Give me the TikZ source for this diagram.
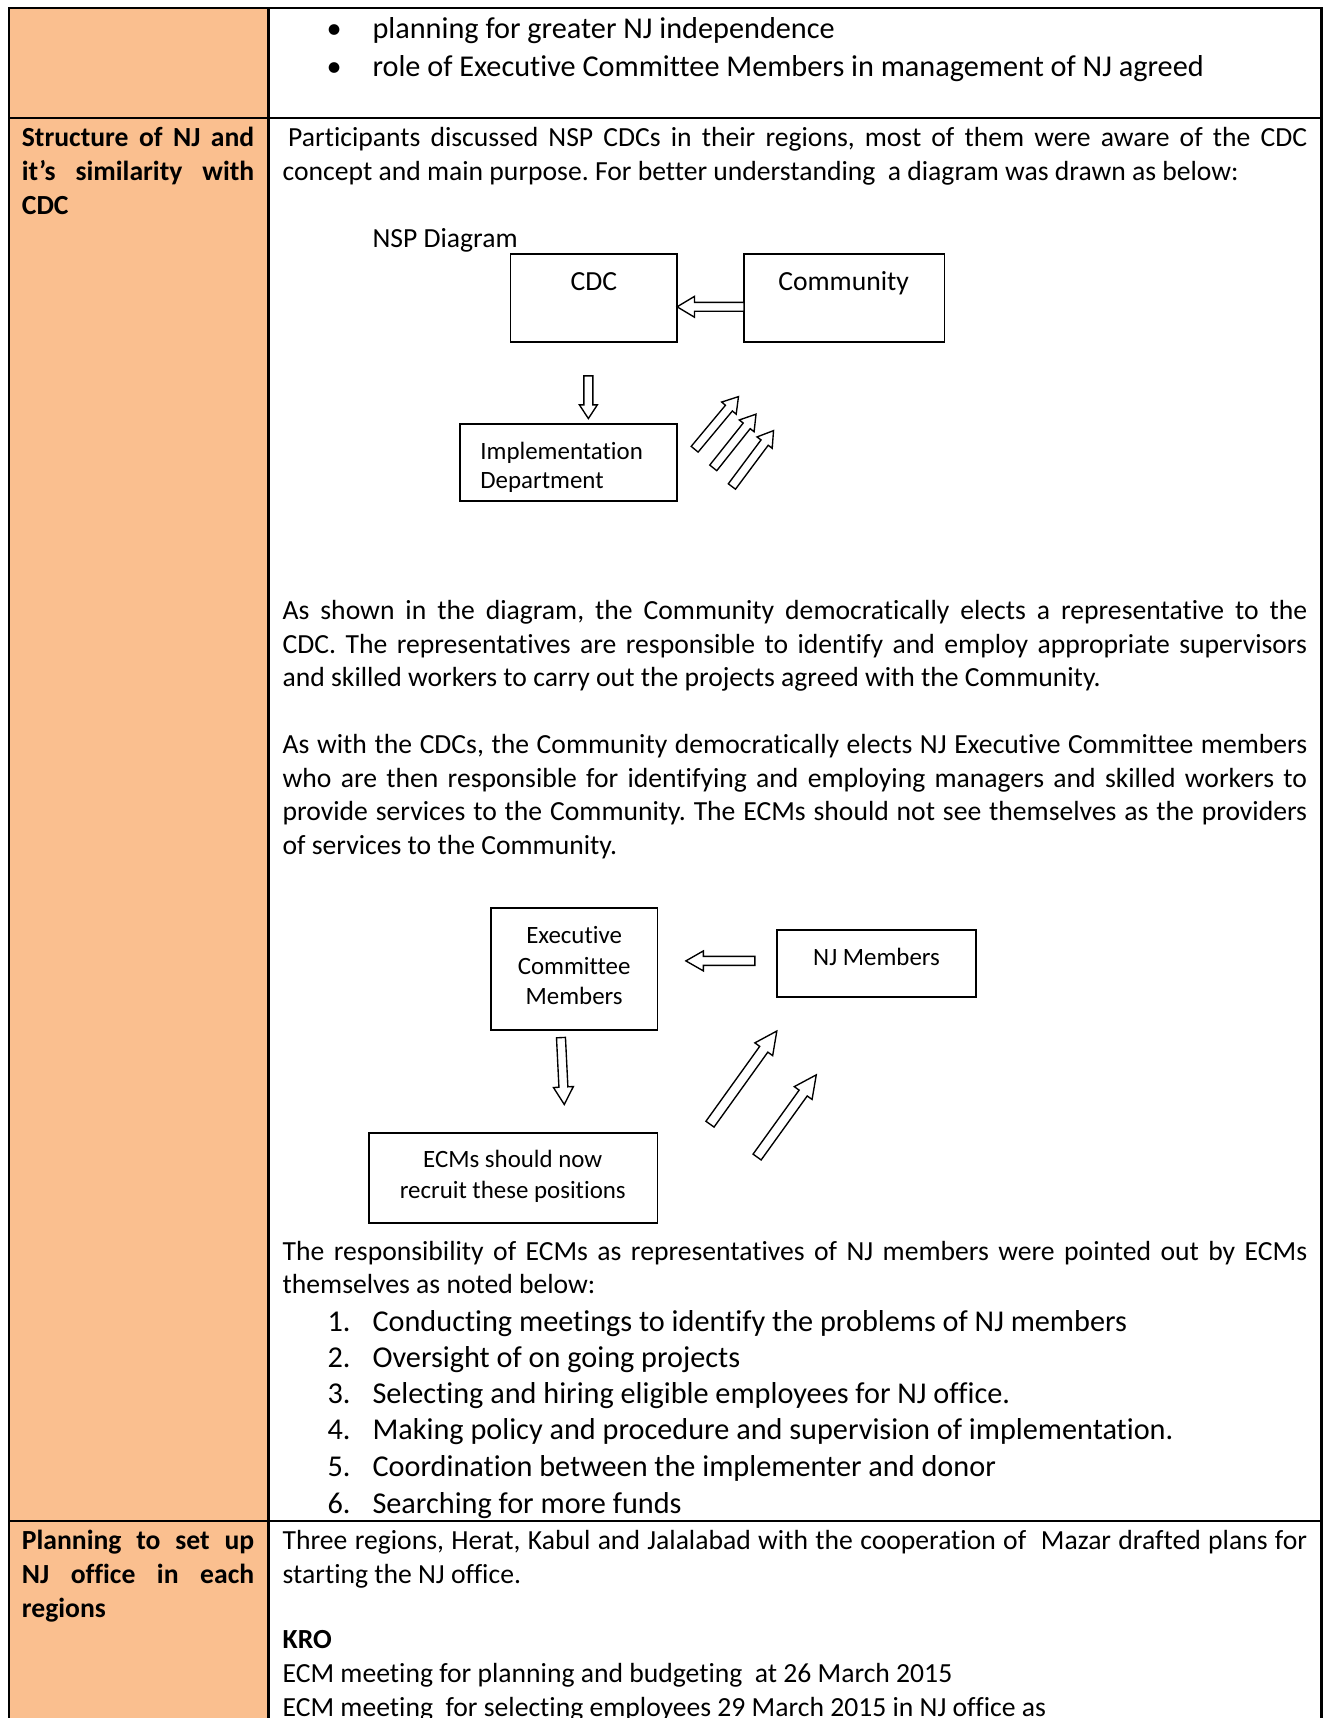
\documentclass[tikz,border=0pt]{standalone}
\usepackage{fontspec}
\setmainfont{Carlito}[Ligatures=NoCommon]
\usetikzlibrary{calc}
\definecolor{cellorange}{HTML}{FABF8F}
\frenchspacing
\def\U{0.44pt}
\newcommand{\bodyfont}{\fontsize{11.1}{13}\selectfont}
\newcommand{\listfont}{\fontsize{12.15}{14}\selectfont}
\newcommand{\diagfont}{\fontsize{10}{12}\selectfont}
\newcommand{\jrow}[2]{\makebox[#1][s]{#2}}
\newcommand{\barrow}[5]{%
  \coordinate (tmph) at ($(#2)!#5!(#1)$);
  \draw[arrowline] ($(#1)!#3!90:(#2)$) -- ($(tmph)!#3!90:(#2)$) -- ($(tmph)!#4!90:(#2)$) -- (#2) -- ($(tmph)!#4!-90:(#2)$) -- ($(tmph)!#3!-90:(#2)$) -- ($(#1)!#3!-90:(#2)$) -- cycle;}
\tikzset{
  txt/.style={anchor=base west, inner sep=0pt, outer sep=0pt, font=\bodyfont},
  ltxt/.style={anchor=base west, inner sep=0pt, outer sep=0pt, font=\listfont},
  ctxt/.style={anchor=base, inner sep=0pt, outer sep=0pt},
  box/.style 2 args={draw, line width=0.7pt, inner sep=0pt, outer sep=0pt, minimum width=#1*\U, minimum height=#2*\U},
  arrowline/.style={draw, fill=white, line width=0.55pt, line join=miter},
  tableline/.style={line width=0.9pt}
}
\begin{document}
\begin{tikzpicture}[x=0.44pt, y=-0.44pt]
\useasboundingbox (0,0) rectangle (1211,1568);
\clip (0,0) rectangle (1211,1568);
% table
\fill[cellorange] (8,7) rectangle (245,1580);
\draw[tableline] (8,1580) -- (8,7) -- (1206,7) -- (1206,1580);
\draw[tableline] (245,7) -- (245,1580);
\draw[tableline] (8,108) -- (1206,108);
\draw[tableline] (8,1388) -- (1206,1388);
% row 1
\node[ctxt, font=\listfont] (b1) at (305,35) {•};
\node[ltxt] (t1) at (340,35) {planning for greater NJ independence};
\node[ctxt, font=\listfont] (b2) at (305,70) {•};
\node[ltxt] (t2) at (340,70) {role of Executive Committee Members in management of NJ agreed};
% row 2 left
\node[txt] (l1) at (20,134) {\jrow{93.28pt}{\bfseries Structure of NJ and}};
\node[txt] (l2) at (20,165) {\jrow{93.28pt}{\bfseries it’s similarity with}};
\node[txt, font=\bodyfont\bfseries] (l3) at (20,196) {CDC};
% row 2 right
\node[txt] (r1) at (263,134) {\jrow{409.2pt}{Participants discussed NSP CDCs in their regions, most of them were aware of the CDC}};
\node[txt] (r2) at (258,165) {concept and main purpose. For better understanding\ \ a diagram was drawn as below:};
\node[txt] (nsp) at (340,226) {NSP Diagram};
% diagram 1
\node[box={152}{80}] (cdc) at (542,272) {};
\node[ctxt, font=\bodyfont] (cdct) at (542,265) {CDC};
\node[box={183}{80}] (comm) at (770.5,272) {};
\node[ctxt, font=\bodyfont] (commt) at (770,265) {Community};
\node[box={198}{70}] (impl) at (519,422) {};
\node[anchor=base west, inner sep=0pt, font=\diagfont] (implt1) at (438,419) {Implementation};
\node[anchor=base west, inner sep=0pt, font=\diagfont] (implt2) at (438,446) {Department};
\coordinate (a1t) at ($(comm.west)+(0,8)$);
\coordinate (a1h) at ($(cdc.east)+(0,8)$);
\barrow{a1t}{a1h}{1.8pt}{4.2pt}{7pt}
\coordinate (a2t) at (537,343);
\coordinate (a2h) at (537,382);
\barrow{a2t}{a2h}{1.8pt}{3.6pt}{5.5pt}
\coordinate (d1t) at (634,410);
\coordinate (d1h) at (674,362);
\barrow{d1t}{d1h}{1.8pt}{3.8pt}{6pt}
\coordinate (d2t) at (651,427);
\coordinate (d2h) at (690,378);
\barrow{d2t}{d2h}{1.8pt}{3.8pt}{6pt}
\coordinate (d3t) at (668,444);
\coordinate (d3h) at (706,393);
\barrow{d3t}{d3h}{1.8pt}{3.8pt}{6pt}
% paragraphs
\node[txt] (p11) at (258,565) {\jrow{411.4pt}{As shown in the diagram, the Community democratically elects a representative to the}};
\node[txt] (p12) at (258,596) {\jrow{411.4pt}{CDC. The representatives are responsible to identify and employ appropriate supervisors}};
\node[txt] (p13) at (258,627) {and skilled workers to carry out the projects agreed with the Community.};
\node[txt] (p21) at (258,688) {\jrow{411.4pt}{As with the CDCs, the Community democratically elects NJ Executive Committee members}};
\node[txt] (p22) at (258,719) {\jrow{411.4pt}{who are then responsible for identifying and employing managers and skilled workers to}};
\node[txt] (p23) at (258,749) {\jrow{411.4pt}{provide services to the Community. The ECMs should not see themselves as the providers}};
\node[txt] (p24) at (258,780) {of services to the Community.};
% diagram 2
\node[box={152}{111}] (ecm) at (524,884.5) {};
\node[ctxt, font=\diagfont] (ecm1) at (524,861) {Executive};
\node[ctxt, font=\diagfont] (ecm2) at (524,889) {Committee};
\node[ctxt, font=\diagfont] (ecm3) at (524,917) {Members};
\node[box={182}{61}] (njm) at (800,879.5) {};
\node[ctxt, font=\diagfont] (njmt) at (800,881) {NJ Members};
\node[box={263}{82}] (rec) at (468.5,1075) {};
\node[ctxt, font=\diagfont] (rec1) at (468,1066) {ECMs should now};
\node[ctxt, font=\diagfont] (rec2) at (468,1094) {recruit these positions};
\coordinate (b1t) at (689,877);
\coordinate (b1h) at (626,877);
\barrow{b1t}{b1h}{1.8pt}{4pt}{7pt}
\coordinate (b2t) at (512,947);
\coordinate (b2h) at (515,1008);
\barrow{b2t}{b2h}{1.8pt}{4pt}{7pt}
\coordinate (e1t) at (648,1026);
\coordinate (e1h) at (709,941);
\barrow{e1t}{e1h}{2pt}{4.4pt}{9pt}
\coordinate (e2t) at (691,1056);
\coordinate (e2h) at (745,981);
\barrow{e2t}{e2h}{2pt}{4.4pt}{9pt}
% responsibilities
\node[txt] (q1) at (258,1150) {\jrow{411.4pt}{The responsibility of ECMs as representatives of NJ members were pointed out by ECMs}};
\node[txt] (q2) at (258,1181) {themselves as noted below:};
\node[ltxt] (n1) at (299,1215) {1.};
\node[ltxt] (i1) at (340,1215) {Conducting meetings to identify the problems of NJ members};
\node[ltxt] (n2) at (299,1248) {2.};
\node[ltxt] (i2) at (340,1248) {Oversight of on going projects};
\node[ltxt] (n3) at (299,1281) {3.};
\node[ltxt] (i3) at (340,1281) {Selecting and hiring eligible employees for NJ office.};
\node[ltxt] (n4) at (299,1314) {4.};
\node[ltxt] (i4) at (340,1314) {Making policy and procedure and supervision of implementation.};
\node[ltxt] (n5) at (299,1348) {5.};
\node[ltxt] (i5) at (340,1348) {Coordination between the implementer and donor};
\node[ltxt] (n6) at (299,1381) {6.};
\node[ltxt] (i6) at (340,1381) {Searching for more funds};
% row 3
\node[txt] (m1) at (20,1414) {\jrow{93.28pt}{\bfseries Planning to set up}};
\node[txt] (m2) at (20,1445) {\jrow{93.28pt}{\bfseries NJ office in each}};
\node[txt, font=\bodyfont\bfseries] (m3) at (20,1476) {regions};
\node[txt] (s1) at (258,1414) {\jrow{411.4pt}{Three regions, Herat, Kabul and Jalalabad with the cooperation of\ \ Mazar drafted plans for}};
\node[txt] (s2) at (258,1445) {starting the NJ office.};
\node[txt, font=\bodyfont\bfseries] (kro) at (258,1505) {KRO};
\node[txt] (s3) at (258,1536) {ECM meeting for planning and budgeting\ \ at 26 March 2015};
\node[txt] (s4) at (258,1567) {ECM meeting\ \ for selecting employees 29 March 2015 in NJ office as};
\end{tikzpicture}
\end{document}
